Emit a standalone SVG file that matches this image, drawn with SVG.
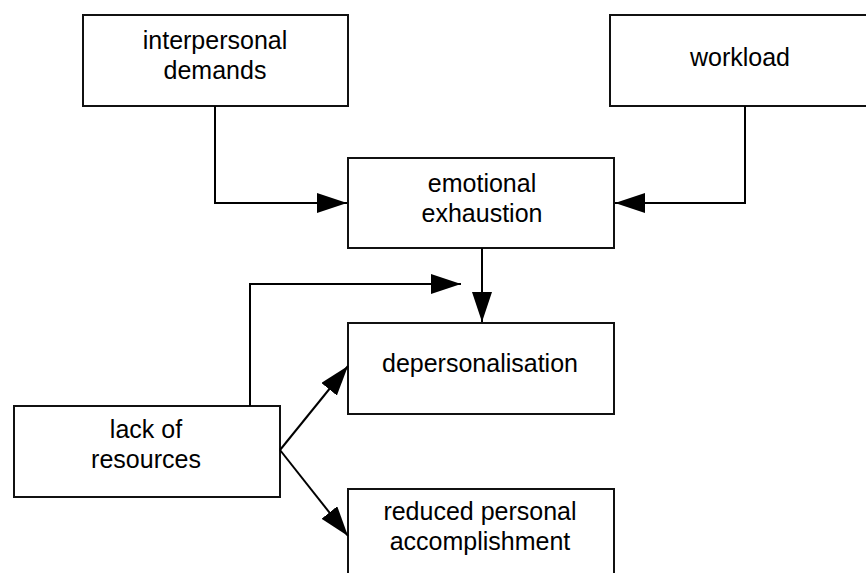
<svg xmlns="http://www.w3.org/2000/svg" width="866" height="573" viewBox="0 0 866 573">
  <style>
    .box { fill: #ffffff; stroke: #111111; stroke-width: 2; }
    .lbl { font-family: "Liberation Sans", Arial, sans-serif; font-size: 25px; fill: #000000; text-anchor: middle; }
    .wire { fill: none; stroke: #000000; stroke-width: 2; }
  </style>
  <defs>
    <marker id="head" markerUnits="userSpaceOnUse" markerWidth="31" markerHeight="21" refX="30" refY="10" orient="auto" viewBox="0 0 31 21">
      <path d="M0,0 L30,10 L0,20 Z" fill="#000000"/>
    </marker>
  </defs>

  <rect width="866" height="573" fill="#ffffff"/>

  <g id="interpersonal-demands">
    <rect class="box" x="83" y="15" width="265" height="91"/>
    <text class="lbl" x="215" y="49">interpersonal</text>
    <text class="lbl" x="215" y="79">demands</text>
  </g>

  <g id="workload">
    <rect class="box" x="610" y="15" width="270" height="91"/>
    <text class="lbl" x="740" y="66">workload</text>
  </g>

  <g id="emotional-exhaustion">
    <rect class="box" x="348" y="158" width="266" height="90"/>
    <text class="lbl" x="482" y="192">emotional</text>
    <text class="lbl" x="482" y="222">exhaustion</text>
  </g>

  <g id="depersonalisation">
    <rect class="box" x="348" y="323" width="266" height="91"/>
    <text class="lbl" x="480" y="372">depersonalisation</text>
  </g>

  <g id="lack-of-resources">
    <rect class="box" x="14" y="406" width="266" height="91"/>
    <text class="lbl" x="146" y="438">lack of</text>
    <text class="lbl" x="146" y="468">resources</text>
  </g>

  <g id="reduced-personal-accomplishment">
    <rect class="box" x="348" y="489" width="266" height="100"/>
    <text class="lbl" x="480" y="520">reduced personal</text>
    <text class="lbl" x="480" y="550">accomplishment</text>
  </g>

  <g id="connectors">
    <path class="wire" d="M215,106 V203 H347" marker-end="url(#head)"/>
    <path class="wire" d="M745,106 V203 H615" marker-end="url(#head)"/>
    <path class="wire" d="M482,248 V322" marker-end="url(#head)"/>
    <path class="wire" d="M250,406 V284 H461" marker-end="url(#head)"/>
    <path class="wire" d="M280,450 L348,366" marker-end="url(#head)"/>
    <path class="wire" d="M280,450 L348,536" marker-end="url(#head)"/>
  </g>
</svg>
